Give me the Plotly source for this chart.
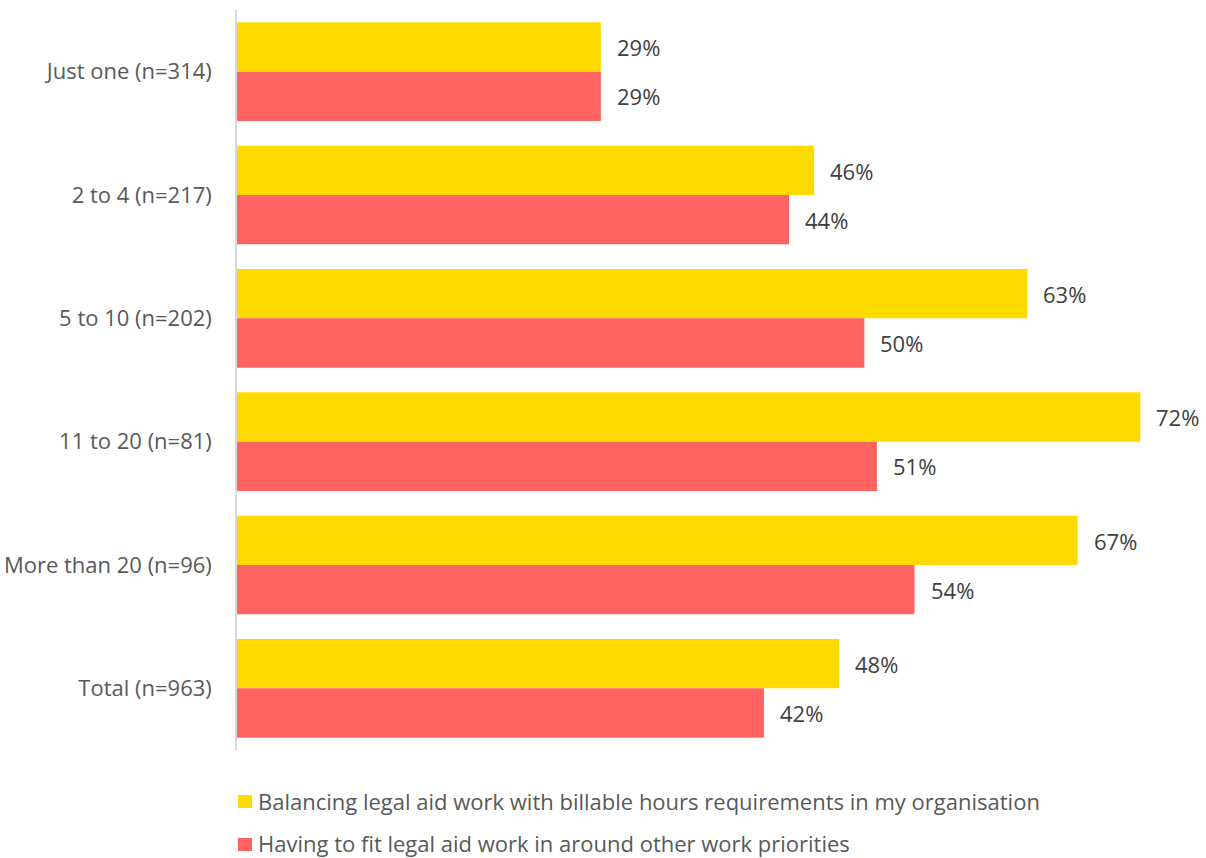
import plotly.graph_objects as go

categories = ["Just one (n=314)", "2 to 4 (n=217)", "5 to 10 (n=202)",
              "11 to 20 (n=81)", "More than 20 (n=96)", "Total (n=963)"]
series_names = ["Balancing legal aid work with billable hours requirements in my organisation",
                "Having to fit legal aid work in around other work priorities"]
billable = [29, 46, 63, 72, 67, 48]
other_priorities = [29, 44, 50, 51, 54, 42]
colors = ["#FFDA00", "#FF6361"]

FONT = "Open Sans, Arial, sans-serif"
TEXT_GREY = "#595959"
LABEL_GREY = "#404040"

fig = go.Figure()
for i, (name, vals) in enumerate(zip(series_names, [billable, other_priorities])):
    fig.add_trace(go.Bar(
        y=categories, x=vals, name=name, orientation="h",
        marker=dict(color=colors[i], line=dict(width=0)),
        hoverinfo="skip", showlegend=False,
    ))

# value labels to the right of each bar (first series upper half, second lower half)
annotations = []
for i, vals in enumerate([billable, other_priorities]):
    for cat, v in zip(categories, vals):
        annotations.append(dict(
            x=v, y=cat, xref="x", yref="y", text=f"{v}%", showarrow=False,
            xanchor="left", yanchor="middle", xshift=14,
            yshift=24.5 if i == 0 else -24.5,
            font=dict(family=FONT, size=22, color=LABEL_GREY),
        ))

# legend drawn below the plot: coloured square followed by the series name
shapes = []
legend_rows = [(-0.0784, -0.0608, -0.0689), (-0.1365, -0.1189, -0.1257)]
for i, name in enumerate(series_names):
    y0, y1, yc = legend_rows[i]
    shapes.append(dict(
        type="rect", xref="paper", yref="paper",
        xsizemode="pixel", xanchor=0, x0=1, x1=15,
        y0=y0, y1=y1, fillcolor=colors[i], line=dict(width=0),
    ))
    annotations.append(dict(
        x=0, y=yc, xref="paper", yref="paper", text=name, showarrow=False,
        xanchor="left", yanchor="middle", xshift=19,
        font=dict(family=FONT, size=22, color=TEXT_GREY),
    ))

fig.update_layout(
    width=1206, height=858,
    margin=dict(l=237, r=28, t=10, b=108, autoexpand=False),
    plot_bgcolor="white", paper_bgcolor="white",
    barmode="group", bargap=0.2, bargroupgap=0,
    font=dict(family=FONT, size=22, color=TEXT_GREY),
    annotations=annotations, shapes=shapes,
    showlegend=False,
    xaxis=dict(range=[0, 75], visible=False, showgrid=False, zeroline=False),
    yaxis=dict(
        autorange="reversed", showgrid=False, zeroline=False, automargin=False,
        showline=True, linecolor="#D9D9D9", linewidth=1.5,
        ticks="", ticklabelstandoff=19,
        tickfont=dict(family=FONT, size=22, color=TEXT_GREY),
    ),
)

fig.write_html("out.html")
